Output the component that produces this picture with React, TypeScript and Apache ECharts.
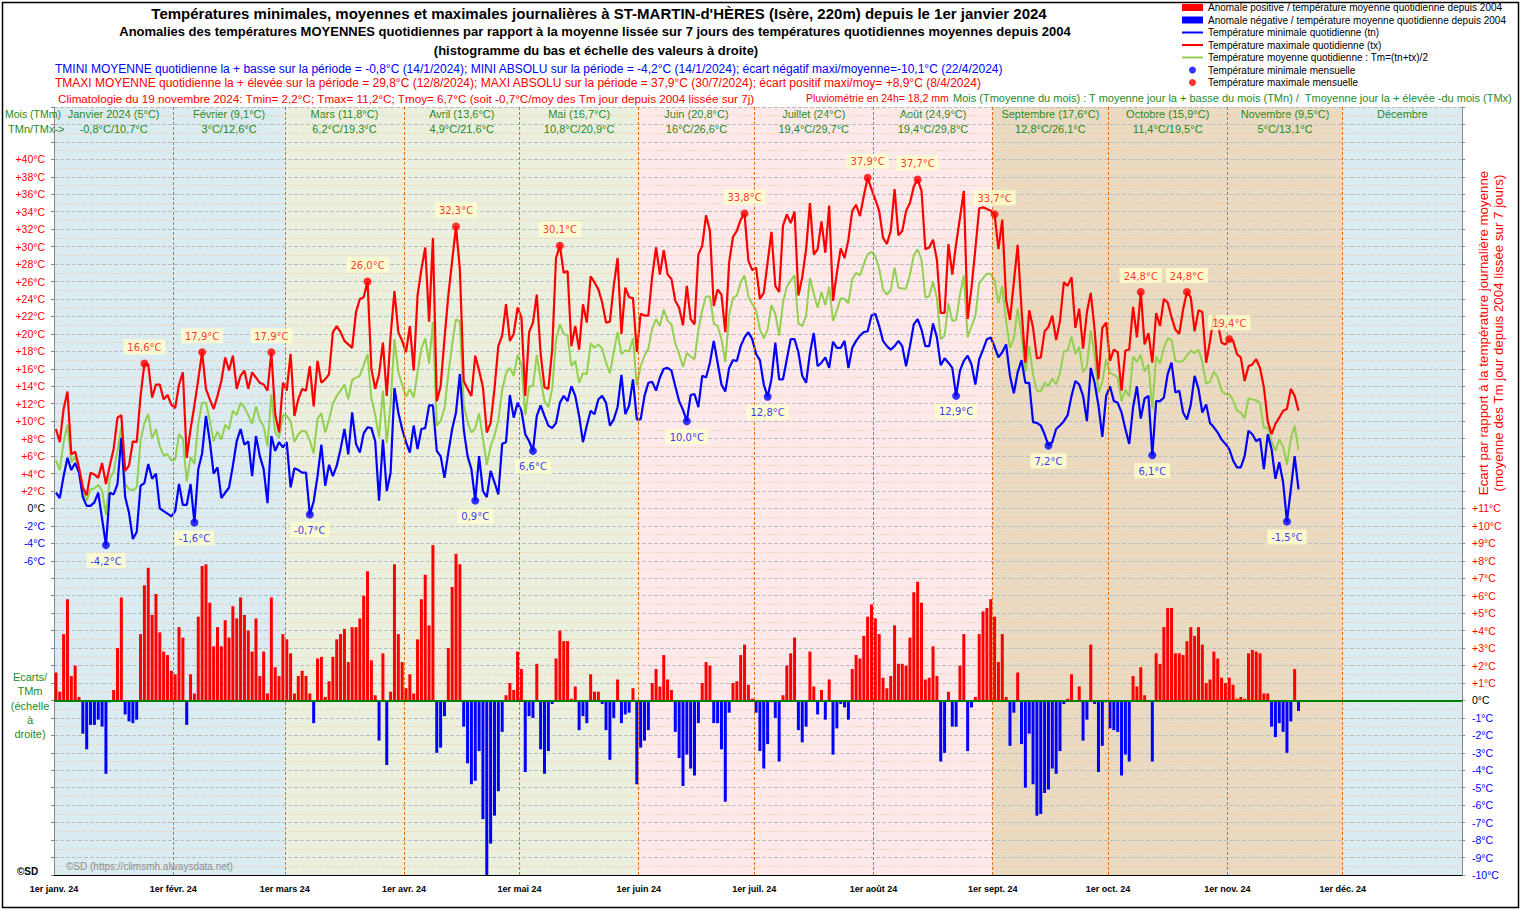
import { useEffect, useRef } from 'react';
import * as echarts from 'echarts';

// ---------- DATA ----------
const monthStarts = [0, 31, 60, 91, 121, 152, 182, 213, 244, 274, 305, 335, 366];
const xTickLabels = ['1er janv. 24', '1er févr. 24', '1er mars 24', '1er avr. 24', '1er mai 24', '1er juin 24', '1er juil. 24', '1er août 24', '1er sept. 24', '1er oct. 24', '1er nov. 24', '1er déc. 24'];
const monthNames = ['Janvier 2024', 'Février', 'Mars', 'Avril', 'Mai', 'Juin', 'Juillet', 'Août', 'Septembre', 'Octobre', 'Novembre', 'Décembre'];
const monthMeans = ['5°C', '9,1°C', '11,8°C', '13,6°C', '16,7°C', '20,8°C', '24°C', '24,9°C', '17,6°C', '15,9°C', '9,5°C', ''];
const monthTMn = ['-0,8°C', '3°C', '6,2°C', '4,9°C', '10,8°C', '16°C', '19,4°C', '19,4°C', '12,8°C', '11,4°C', '5°C', ''];
const monthTMx = ['10,7°C', '12,6°C', '19,3°C', '21,6°C', '20,9°C', '26,6°C', '29,7°C', '29,8°C', '26,1°C', '19,5°C', '13,1°C', ''];

// daily minimum temperature (tn), from 1 Jan 2024
const tn = [
  1.8, 1.2, 3.7, 5.8, 4.4, 5.2, 4.1, 1.3, 0.3, 0.3,
  0.7, 1.8, -1.2, -4.2, 1.8, 1.6, 2.8, 8.1, 1.3, -0.5,
  -3.5, -2.7, 2.6, 2.9, 5.1, 3.4, 4.0, 0.0, -0.3, -0.6,
  -0.9, -0.3, 2.8, 0.4, 0.4, 2.8, -1.6, 4.5, 6.3, 10.6,
  7.7, 4.0, 4.7, 1.2, 1.8, 2.4, 4.9, 7.7, 9.1, 7.3,
  7.7, 3.7, 8.3, 6.0, 4.5, 0.6, 8.3, 6.6, 7.6, 7.0,
  7.6, 2.4, 4.6, 4.4, 4.1, 4.1, -0.7, 0.8, 3.7, 7.3,
  2.6, 5.0, 3.7, 4.9, 6.8, 9.1, 6.2, 11.0, 7.4, 6.4,
  8.6, 9.3, 9.2, 7.7, 0.9, 7.9, 2.0, 4.1, 13.8, 11.0,
  9.1, 7.6, 6.4, 9.5, 6.8, 9.1, 9.2, 11.8, 11.8, 6.6,
  6.0, 3.5, 6.4, 9.1, 11.0, 15.4, 9.1, 6.0, 4.5, 0.9,
  6.0, 2.0, 1.3, 4.3, 3.0, 1.6, 7.4, 7.6, 13.0, 10.4,
  12.1, 11.2, 8.5, 7.7, 6.6, 10.6, 11.8, 10.6, 9.5, 9.2,
  9.8, 12.1, 12.9, 12.3, 14.0, 12.9, 10.6, 7.6, 9.5, 11.2,
  10.8, 12.5, 12.9, 12.1, 9.5, 10.2, 11.6, 15.3, 10.8, 11.8,
  14.8, 10.2, 10.2, 12.9, 14.4, 14.5, 13.5, 15.0, 16.0, 16.1,
  15.8, 14.0, 12.3, 11.3, 10.0, 13.0, 13.1, 11.6, 15.2, 15.0,
  16.7, 19.2, 16.7, 14.2, 13.4, 16.1, 17.0, 16.9, 18.6, 19.6,
  20.2, 19.4, 17.7, 17.0, 14.2, 12.8, 14.8, 19.0, 14.8, 14.8,
  17.1, 19.4, 19.4, 17.9, 15.2, 14.4, 17.8, 20.1, 16.3, 16.7,
  17.3, 16.1, 19.1, 18.4, 18.4, 19.2, 16.1, 18.4, 19.2, 19.8,
  20.2, 20.3, 22.1, 22.3, 20.9, 19.2, 18.6, 18.2, 18.6, 19.2,
  18.6, 16.3, 18.6, 21.1, 21.7, 20.5, 18.6, 18.6, 21.2, 19.6,
  16.4, 17.2, 16.7, 16.1, 12.9, 15.8, 16.9, 17.5, 16.5, 14.2,
  17.1, 18.2, 19.4, 19.6, 18.5, 17.3, 17.9, 18.8, 15.2, 13.2,
  15.6, 17.0, 14.4, 14.4, 9.9, 9.8, 9.5, 8.5, 7.2, 7.6,
  9.1, 9.5, 10.0, 10.7, 12.9, 14.6, 14.2, 12.9, 10.0, 16.1,
  14.4, 11.8, 8.2, 12.9, 14.0, 12.3, 12.1, 11.0, 9.1, 7.4,
  11.6, 14.0, 10.3, 12.6, 12.9, 6.1, 12.3, 12.3, 12.7, 15.4,
  16.7, 13.3, 13.5, 11.0, 10.2, 11.9, 15.2, 13.7, 11.0, 11.9,
  9.8, 9.3, 8.7, 7.9, 7.4, 6.8, 5.5, 4.7, 4.7, 6.0,
  8.9, 8.5, 7.7, 8.0, 4.5, 8.5, 6.8, 3.4, 5.3, 3.0,
  -1.5, 2.2, 6.0, 2.2,
];

// daily maximum temperature (tx)
const tx = [
  9.1, 7.6, 11.4, 13.4, 6.2, 6.5, 4.7, 2.4, 1.5, 4.1,
  3.9, 3.5, 5.2, 2.8, 4.9, 6.8, 10.4, 10.7, 4.3, 4.9,
  7.7, 7.6, 12.9, 16.6, 16.5, 12.7, 14.2, 14.2, 12.5, 13.0,
  11.9, 11.5, 14.2, 15.6, 5.8, 9.1, 11.8, 14.8, 17.9, 13.7,
  12.5, 11.4, 12.9, 14.6, 17.3, 15.8, 17.5, 13.7, 15.2, 15.8,
  13.7, 15.6, 15.0, 14.4, 14.2, 13.5, 17.9, 10.8, 8.7, 14.4,
  13.5, 17.7, 10.6, 12.5, 13.7, 13.5, 16.3, 11.7, 16.9, 14.4,
  14.8, 15.4, 20.2, 20.9, 20.2, 19.2, 18.8, 18.4, 22.5, 24.0,
  24.2, 26.0, 16.0, 13.7, 15.4, 19.0, 12.9, 19.8, 24.9, 20.2,
  19.2, 17.9, 20.9, 15.8, 24.4, 27.4, 29.9, 21.4, 31.0, 12.3,
  14.0, 19.4, 24.4, 28.4, 32.3, 27.4, 14.6, 13.7, 12.9, 17.5,
  15.8, 13.9, 8.7, 9.8, 13.7, 18.6, 19.8, 23.4, 19.2, 20.0,
  23.0, 21.9, 12.9, 20.2, 21.3, 24.5, 17.7, 13.9, 13.7, 18.2,
  28.7, 30.1, 27.0, 27.2, 18.6, 20.9, 18.2, 23.4, 21.3, 26.6,
  25.9, 25.1, 23.6, 21.3, 21.4, 25.5, 28.7, 20.0, 25.3, 24.2,
  24.1, 17.9, 22.3, 22.1, 22.1, 26.6, 29.9, 26.8, 29.6, 26.8,
  26.3, 23.8, 23.0, 21.0, 25.5, 21.7, 21.1, 29.1, 30.1, 33.6,
  31.8, 23.2, 25.1, 24.5, 20.2, 28.2, 31.1, 31.8, 33.1, 33.8,
  28.4, 27.3, 27.6, 24.0, 24.7, 28.2, 31.7, 25.5, 24.8, 32.4,
  33.7, 32.7, 34.0, 24.4, 26.5, 29.7, 35.0, 29.1, 29.7, 32.9,
  29.3, 34.7, 23.8, 27.0, 29.8, 28.7, 30.8, 34.1, 34.8, 33.5,
  35.8, 37.9, 36.6, 35.4, 34.1, 31.0, 30.3, 31.8, 36.6, 31.3,
  31.8, 34.1, 35.0, 36.9, 37.7, 36.4, 29.7, 29.9, 30.8, 28.5,
  22.4, 22.4, 30.3, 26.8, 30.3, 33.3, 36.4, 21.7, 25.3, 29.7,
  34.4, 34.5, 34.3, 34.1, 33.7, 29.7, 33.1, 23.9, 21.6, 25.9,
  30.2, 22.8, 16.7, 22.7, 20.7, 17.2, 17.3, 20.3, 20.8, 22.1,
  19.3, 21.5, 25.9, 25.5, 26.5, 20.7, 22.9, 18.3, 22.5, 24.7,
  20.5, 14.8, 20.7, 21.3, 16.9, 18.2, 17.9, 13.5, 18.1, 18.2,
  23.1, 19.6, 24.8, 18.8, 20.1, 16.7, 22.4, 20.9, 24.0, 23.6,
  21.9, 20.5, 20.0, 22.8, 24.8, 24.2, 20.3, 22.7, 22.5, 16.7,
  19.2, 22.1, 21.3, 19.0, 18.8, 19.4, 19.2, 17.7, 17.3, 14.6,
  16.3, 16.5, 17.1, 16.1, 13.9, 10.0, 8.5, 9.7, 10.4, 11.2,
  11.4, 13.7, 12.9, 11.2,
];

// anomaly of the daily mean temperature vs smoothed 2004+ mean (right scale)
const anomaly = [
  1.6, 0.5, 3.8, 5.8, 1.4, 2.0, 0.2, -1.9, -2.8, -1.4,
  -1.4, -1.1, -1.5, -4.2, -0.1, 0.6, 3.0, 5.9, -0.8, -1.2,
  -1.3, -1.1, 3.8, 6.6, 7.6, 4.9, 6.1, 3.9, 2.8, 2.6,
  1.7, 1.5, 4.2, 3.6, -1.4, 1.5, 0.4, 4.8, 7.7, 7.8,
  5.6, 3.1, 4.2, 3.1, 4.6, 3.6, 5.4, 4.7, 5.9, 4.9,
  4.0, 2.8, 4.7, 1.4, 2.8, 0.4, 5.9, 1.9, 1.4, 3.8,
  3.5, 2.7, 0.4, 1.4, 1.7, 1.4, 0.4, -1.3, 2.4, 2.5,
  0.2, 1.1, 2.5, 3.5, 3.8, 4.1, 2.2, 4.2, 4.2, 4.7,
  6.0, 7.4, 2.3, 0.3, -2.3, 2.7, -3.7, 0.5, 7.8, 3.8,
  2.2, 0.7, 1.5, 0.4, 3.5, 5.8, 7.2, 4.3, 8.9, -3.0,
  -2.7, -0.9, 3.0, 6.5, 8.4, 7.8, -1.5, -3.6, -4.8, -4.6,
  -2.9, -6.8, -10.1, -8.2, -6.6, -5.2, -1.8, 0.3, 1.0, 0.6,
  2.8, 1.8, -4.1, -0.9, -1.0, 2.1, -2.8, -4.2, -2.9, -0.2,
  2.4, 4.0, 3.4, 3.4, 0.1, 0.8, -1.7, -0.9, -1.3, 1.5,
  0.5, 0.5, -0.2, -1.7, -3.4, -1.0, 1.2, -1.3, -0.8, -0.7,
  0.7, -4.8, -2.7, -2.3, -1.7, 1.0, 1.8, 0.8, 2.6, 1.2,
  0.6, -1.8, -3.3, -4.9, -3.1, -3.9, -4.3, -1.3, 1.0, 2.2,
  2.0, -1.3, -1.3, -2.8, -5.8, -0.7, 1.0, 1.1, 2.6, 3.2,
  0.9, 0.1, -0.7, -2.9, -3.9, -2.5, -0.1, -1.0, -3.5, 0.3,
  2.0, 2.7, 3.6, -1.7, -2.4, -1.5, 2.8, 0.8, -0.8, 0.6,
  -1.1, 1.2, -3.1, -1.6, -0.2, -0.4, -1.1, 1.8, 2.6, 2.4,
  3.7, 4.8, 5.5, 4.7, 3.8, 1.3, 0.7, 1.4, 4.3, 2.1,
  2.1, 2.0, 3.6, 6.2, 6.8, 5.6, 1.2, 1.3, 3.1, 1.4,
  -3.5, -3.0, 0.5, -1.5, -1.5, 2.0, 3.8, -2.9, -0.4, 0.2,
  3.8, 5.1, 5.3, 5.8, 4.8, 2.2, 3.8, 0.2, -2.6, -0.7,
  1.6, -2.5, -5.0, -1.9, -4.8, -6.6, -6.5, -5.3, -5.1, -3.9,
  -4.2, -2.9, -0.2, 0.1, 1.5, 0.0, 0.8, -2.3, -1.1, 3.2,
  -0.2, -4.1, -2.6, -0.1, -1.6, -1.7, -1.8, -4.3, -3.1, -3.5,
  1.4, 0.8, 1.9, 0.3, 0.0, -3.5, 2.7, 2.1, 4.2, 5.3,
  5.3, 2.7, 2.7, 2.6, 3.4, 4.2, 3.7, 4.2, 3.2, 1.0,
  1.2, 2.8, 2.4, 1.3, 1.0, 1.3, 0.9, 0.1, 0.2, 0.1,
  2.7, 2.9, 2.8, 2.7, 0.4, 0.4, -1.5, -2.1, -1.3, -1.8,
  -3.0, -1.2, 1.8, -0.6,
];

// ---------- STYLE ----------
const FONT = "'Liberation Sans', Arial, sans-serif";
const GREEN_TXT = '#1f8a1f';
const bandColors = ['#DAEBF2', '#DAEBF2', '#EBEFDE', '#EBEFDE', '#EBEFDE', '#FDE9EA', '#FDE9EA', '#FDE9EA', '#E9DAC1', '#E9DAC1', '#E9DAC1', '#DAEBF2'];

const N_POS = 'Anomale positive / température moyenne quotidienne depuis 2004';
const N_NEG = 'Anomale négative / température moyenne quotidienne depuis 2004';
const N_TN = 'Température minimale quotidienne (tn)';
const N_TX = 'Température maximale quotidienne (tx)';
const N_TM = 'Température moyenne quotidienne : Tm=(tn+tx)/2';
const N_MIN = 'Température minimale mensuelle';
const N_MAX = 'Température maximale mensuelle';

function monthlyExtremes(arr: number[], isMax: boolean): number[][] {
  const pts: number[][] = [];
  for (let m = 0; m < 12; m++) {
    const s = monthStarts[m];
    const e = Math.min(monthStarts[m + 1], arr.length);
    if (s >= e) continue;
    let best = arr[s];
    for (let i = s; i < e; i++) best = isMax ? Math.max(best, arr[i]) : Math.min(best, arr[i]);
    for (let i = s; i < e; i++) if (arr[i] === best) pts.push([i + 0.5, best]);
  }
  return pts;
}

function txt(text: string, x: number, y: number, o: any = {}) {
  return {
    type: 'text', x, y, silent: true, z: 50, rotation: o.rotation || 0,
    style: {
      text, fill: o.fill || '#000', fontSize: o.fontSize || 11, fontWeight: o.fontWeight || 'normal',
      fontFamily: FONT, align: o.align || 'left', verticalAlign: o.verticalAlign || 'middle', lineHeight: o.lineHeight,
    },
  };
}

export default function App() {
  const ref = useRef<HTMLDivElement>(null);
  useEffect(() => {
    if (!ref.current) return;
    const chart = echarts.init(ref.current, null, { renderer: 'svg' });
    const tm = tn.map((v, i) => Math.round((v + tx[i]) * 5) / 10);
    const xy = (arr: number[]) => arr.map((v, i) => [i + 0.5, v]);
    const pos = anomaly.map((v, i) => [i + 0.5, v]).filter((p) => p[1] > 0);
    const neg = anomaly.map((v, i) => [i + 0.5, v]).filter((p) => p[1] < 0);
    const fmtT = (p: any) => Number(p.value[1]).toFixed(1).replace('.', ',') + '°C';

    const bands = monthNames.map((n, m) => [
      {
        name: monthMeans[m] ? `${n} (${monthMeans[m]})\n${monthTMn[m]}/${monthTMx[m]}` : n,
        xAxis: monthStarts[m],
        itemStyle: { color: bandColors[m] },
      },
      { xAxis: monthStarts[m + 1] },
    ]);

    const labelColor = (v: any) => (Number(v) > 0 ? '#FF0000' : Number(v) < 0 ? '#0000FF' : '#000');
    const hideSym = { opacity: 0 };

    const option: any = {
      animation: false,
      backgroundColor: '#fff',
      textStyle: { fontFamily: FONT },
      grid: { left: 54, right: 60, top: 107, bottom: 36, containLabel: false },
      legend: {
        orient: 'vertical', left: 1181, top: 2, itemWidth: 21, itemHeight: 7, itemGap: 1.5,
        selectedMode: false, padding: 0,
        textStyle: { fontSize: 10, fontFamily: FONT, color: '#000', lineHeight: 11 },
        data: [
          { name: N_POS, icon: 'rect' }, { name: N_NEG, icon: 'rect' },
          { name: N_TN, itemStyle: hideSym }, { name: N_TX, itemStyle: hideSym }, { name: N_TM, itemStyle: hideSym },
          { name: N_MIN, icon: 'circle' }, { name: N_MAX, icon: 'circle' },
        ],
      },
      xAxis: {
        type: 'value', min: 0, max: 366, z: 2,
        axisLine: { onZero: false, lineStyle: { color: '#000', width: 1 } },
        axisTick: { show: false },
        splitLine: { show: false },
        axisLabel: {
          customValues: monthStarts.slice(0, 12),
          formatter: (v: number) => { const k = monthStarts.indexOf(Math.round(v)); return k >= 0 && k < 12 ? xTickLabels[k] : ''; },
          fontSize: 9, fontWeight: 'bold', color: '#000', margin: 9, fontFamily: FONT,
        },
      },
      yAxis: [
        {
          type: 'value', min: -42, max: 46, interval: 2, z: 2,
          axisLine: { show: true, onZero: false, lineStyle: { color: '#888' } },
          axisTick: { show: true, length: 3, lineStyle: { color: '#888' } },
          axisLabel: {
            formatter: (v: number) => (v >= -6 && v <= 40 ? (v > 0 ? '+' : '') + v + '°C' : ''),
            color: labelColor, fontSize: 10.5, margin: 9, fontFamily: FONT,
          },
          splitLine: { show: true, lineStyle: { color: '#BDBDBD', type: [4, 2], width: 1 } },
          minorTick: { show: false, splitNumber: 2 },
          minorSplitLine: { show: true, lineStyle: { color: '#F7C9A3', type: [1.5, 2], width: 1 } },
        },
        {
          type: 'value', min: -10, max: 34, interval: 1, position: 'right', z: 2,
          axisLine: { show: true, onZero: false, lineStyle: { color: '#888' } },
          axisTick: { show: true, length: 3, lineStyle: { color: '#888' } },
          axisLabel: {
            formatter: (v: number) => (v >= -10 && v <= 11 ? (v > 0 ? '+' : '') + v + '°C' : ''),
            color: labelColor, fontSize: 10.5, margin: 10, fontFamily: FONT,
          },
          splitLine: { show: false },
        },
      ],
      series: [
        {
          name: '_bands', type: 'line', data: [], silent: true, z: 1,
          markArea: {
            silent: true, z: 1,
            label: { show: true, position: 'insideTop', distance: 0, color: GREEN_TXT, fontSize: 11, lineHeight: 14.5, fontFamily: FONT },
            data: bands,
          },
          markLine: {
            silent: true, symbol: ['none', 'none'], label: { show: false },
            lineStyle: { color: '#E46C0A', type: [3, 2], width: 1 },
            data: monthStarts.slice(1, 12).map((v) => ({ xAxis: v })),
          },
        },
        {
          name: N_POS, type: 'bar', yAxisIndex: 1, barWidth: 3, barGap: '-100%', z: 3,
          itemStyle: { color: '#FF0000' }, data: pos,
          markLine: {
            silent: true, symbol: ['none', 'none'], label: { show: false },
            lineStyle: { color: '#008000', width: 2, type: 'solid' }, data: [{ yAxis: 0 }],
          },
        },
        { name: N_NEG, type: 'bar', yAxisIndex: 1, barWidth: 3, barGap: '-100%', z: 3, itemStyle: { color: '#0000FF' }, data: neg },
        { name: N_TM, type: 'line', data: xy(tm), symbol: 'none', z: 4, color: '#92D050', lineStyle: { color: '#92D050', width: 2 } },
        { name: N_TN, type: 'line', data: xy(tn), symbol: 'none', z: 4, color: '#0000FF', lineStyle: { color: '#0000FF', width: 2.2 } },
        { name: N_TX, type: 'line', data: xy(tx), symbol: 'none', z: 4, color: '#FF0000', lineStyle: { color: '#FF0000', width: 2.2 } },
        {
          name: N_MIN, type: 'scatter', data: monthlyExtremes(tn, false), symbolSize: 8, z: 6,
          itemStyle: { color: '#0000FF' },
          label: { show: true, position: 'bottom', distance: 4, formatter: fmtT, color: '#0000FF', fontSize: 10, fontFamily: "'DejaVu Sans', sans-serif", backgroundColor: '#FFFFCC', padding: [3, 4, 2, 4] },
        },
        {
          name: N_MAX, type: 'scatter', data: monthlyExtremes(tx, true), symbolSize: 8, z: 6,
          itemStyle: { color: '#FF0000' },
          label: { show: true, position: 'top', distance: 5, formatter: fmtT, color: '#FF0000', fontSize: 10, fontFamily: "'DejaVu Sans', sans-serif", backgroundColor: '#FFFFCC', padding: [3, 4, 2, 4] },
        },
      ],
      graphic: [
        { type: 'rect', silent: true, z: 60, shape: { x: 2.5, y: 2.5, width: 1516, height: 905 }, style: { fill: 'none', stroke: '#000', lineWidth: 1.5 } },
        txt("Températures minimales, moyennes et maximales journalières à ST-MARTIN-d'HÈRES (Isère, 220m) depuis le 1er janvier 2024", 599, 13, { align: 'center', fontSize: 15, fontWeight: 'bold' }),
        txt('Anomalies des températures MOYENNES quotidiennes par rapport à la moyenne lissée sur 7 jours des températures quotidiennes moyennes depuis 2004', 595, 31, { align: 'center', fontSize: 13, fontWeight: 'bold' }),
        txt('(histogramme du bas et échelle des valeurs à droite)', 596, 50, { align: 'center', fontSize: 13, fontWeight: 'bold' }),
        txt('TMINI MOYENNE quotidienne la + basse sur la période = -0,8°C (14/1/2024); MINI ABSOLU sur la période = -4,2°C (14/1/2024); écart négatif maxi/moyenne=-10,1°C (22/4/2024)', 55, 69, { fill: '#0000FF', fontSize: 12 }),
        txt('TMAXI MOYENNE quotidienne la + élevée sur la période = 29,8°C (12/8/2024); MAXI ABSOLU sur la période = 37,9°C (30/7/2024); écart positif maxi/moy= +8,9°C (8/4/2024)', 55, 83, { fill: '#FF0000', fontSize: 12 }),
        txt('Climatologie du 19 novembre 2024: Tmin= 2,2°C; Tmax= 11,2°C; Tmoy= 6,7°C (soit -0,7°C/moy des Tm jour depuis 2004 lissée sur 7j)', 58, 98, { fill: '#FF0000', fontSize: 11.7 }),
        txt('Pluviométrie en 24h= 18,2 mm', 806, 98, { fill: '#FF0000', fontSize: 10.5 }),
        txt('Mois (Tmoyenne du mois) : T moyenne jour la + basse du mois (TMn) /  Tmoyenne jour la + élevée -du mois (TMx)', 953, 98, { fill: GREEN_TXT, fontSize: 11 }),
        txt('Mois (TMm)', 5, 114, { fill: GREEN_TXT, fontSize: 10.5 }),
        txt('TMn/TMx->', 8, 129, { fill: GREEN_TXT, fontSize: 11 }),
        txt('Ecarts/\nTMm\n(échelle\nà\ndroite)', 30, 670, { fill: GREEN_TXT, fontSize: 11, align: 'center', verticalAlign: 'top', lineHeight: 14.3 }),
        txt('©SD', 17, 871, { fontSize: 10, fontWeight: 'bold' }),
        txt('©SD (https://climsmh.alwaysdata.net)', 66, 866, { fill: '#8c8c8c', fontSize: 10 }),
        txt('Ecart par rapport à la température journalière moyenne\n(moyenne des Tm jour depuis 2004 lissée sur 7 jours)', 1491, 333, { fill: '#FF0000', fontSize: 13.3, align: 'center', rotation: Math.PI / 2, lineHeight: 15 }),
      ],
    };
    chart.setOption(option);
    return () => chart.dispose();
  }, []);
  return <div ref={ref} style={{ position: 'absolute', left: 0, top: 0, width: 1522, height: 911 }} />;
}
